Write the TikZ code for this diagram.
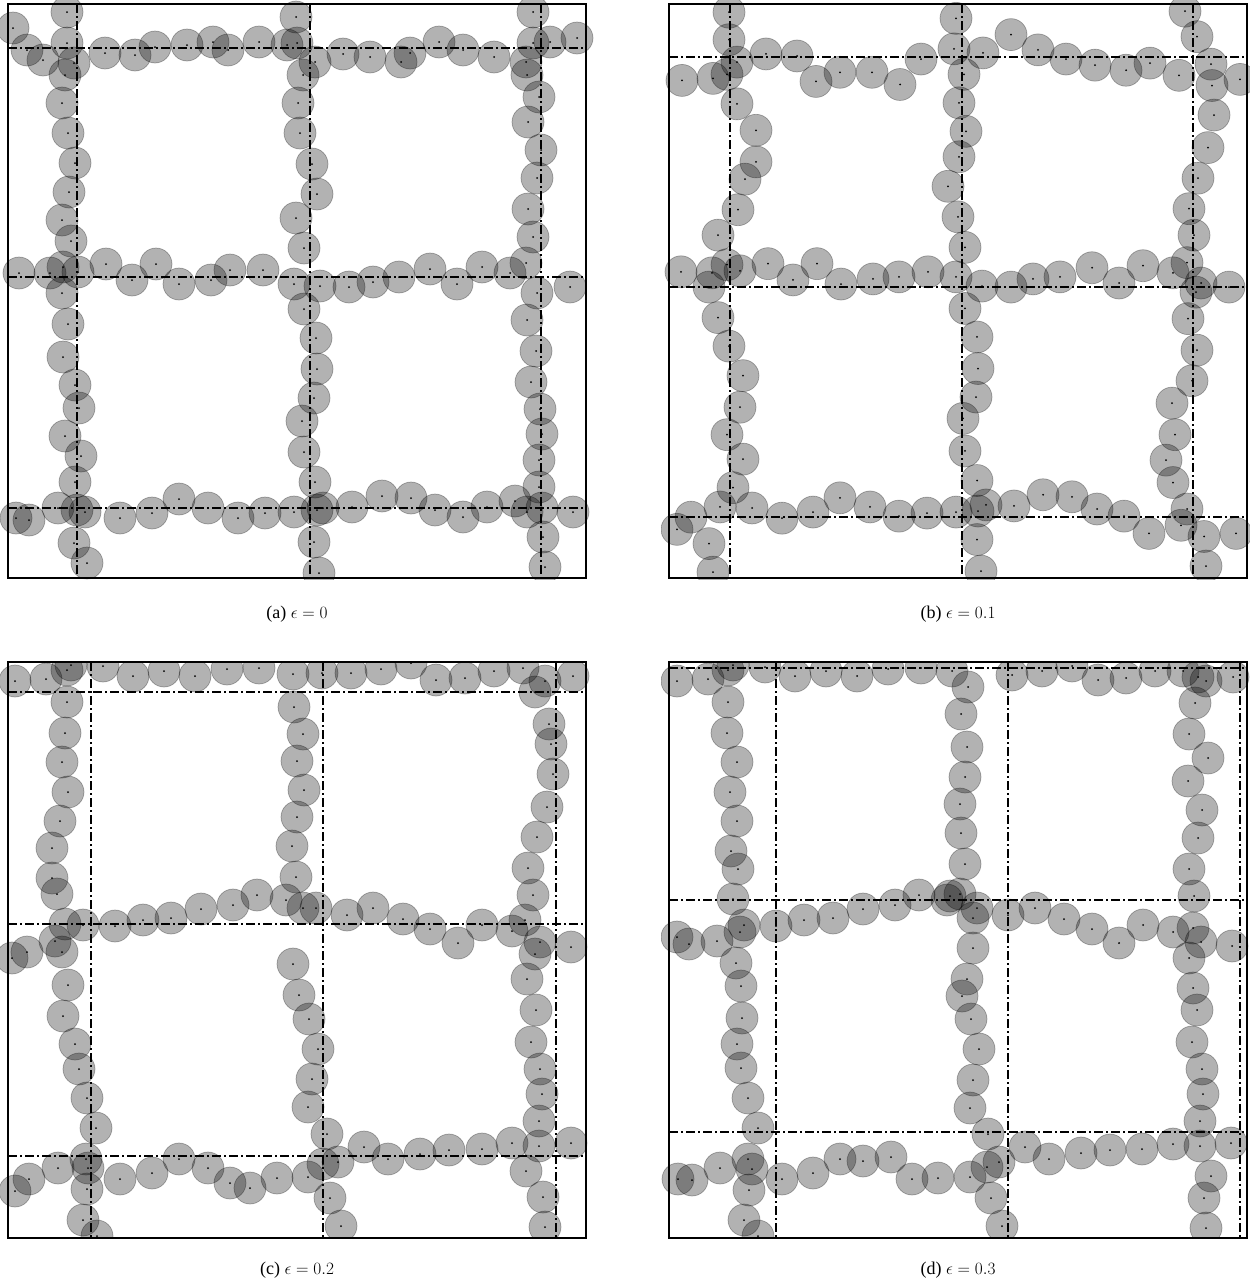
\documentclass[tikz,border=0pt]{standalone}
\usepackage{fontspec}
\setmainfont{Liberation Serif}
\begin{document}
\begin{tikzpicture}[x=1pt,y=-1pt,
  disk/.style={fill=black,fill opacity=0.3,draw=black,draw opacity=0.3,line width=0.7pt},
  ctrdot/.style={fill=black},
  panelframe/.style={draw=black,line width=1.6pt},
  gridl/.style={draw=black,line width=1.5pt,dash pattern=on 9pt off 3pt on 2pt off 3pt},
  captext/.style={font=\fontsize{18}{21}\selectfont,inner sep=0pt}]
\useasboundingbox (0,0) rectangle (1250,1288);
\newcommand\drawdisks[2][1]{\foreach \x/\y in {#2}{\path[disk] (\x,{#1*\y}) circle[radius=16pt]; \fill[ctrdot] (\x,{#1*\y}) circle[radius=1pt];}}
% ---------------- (a)
\begin{scope}
\clip (0,0) rectangle (594,579);
\drawdisks{67/12,67/43,13/28,27/50,43/60,74/63,65/75,105/53,135/55,155/47,187/45,213/42,228/50,259/42,287/45,297/43,296/17,62/103,68/133,75/163,69/192,62/220,71/241,19/273,50/273,63/267,78/272,62/293,106/264,132/280,156/264,179/284,211/280,230/270,263/270,294/284,315/62,303/75,343/54,370/57,401/62,410/53,439/42,463/50,494/57,533/12,533/43,526/62,527/75,539/97,528/122,541/150,537/178,528/209,533/237,550/42,577/38,298/103,300/133,312/164,317/194,296/218,304/248,526/263,482/267,430/269,457/284,399/277,373/282,349/287,320/286,537/293,570/287,510/273,68/324,63/357,75/385,79/408,65/436,81/456,75/482,58/508,85/512,77/510,16/518,29/520,120/518,152/513,179/499,208/508,238/518,265/513,294/512,74/543,87/563,304/309,316/338,317/369,314/398,302/421,304/452,315/482,317/510,323/508,352/507,382/496,411/498,435/510,463/517,487/507,515/501,527/512,542/508,573/512,314/542,319/573,527/320,536/351,531/382,540/409,542/434,539/460,539/487,543/537,545/567}
\end{scope}
\foreach \v in {77,310,541}{\draw[gridl] (\v,4) -- (\v,578);}
\foreach \h in {48,277,508}{\draw[gridl] (8,\h) -- (586,\h);}
\draw[panelframe] (8,4) rectangle (586,578);
\node[captext] (capa) at (297,614) {(a) $\epsilon = 0$};
% ---------------- (b)
\begin{scope}
\clip (661,0) rectangle (1250,579);
\drawdisks[1.018]{729/12,729/39,737/61,727/73,766/53,797/55,682/79,713/77,816/80,840/71,872/71,900/83,921/58,956/18,954/48,737/102,756/128,756/159,745/176,738/206,718/231,681/267,712/268,727/260,740/266,709/282,768/259,793/275,817/259,841/279,873/274,899/272,928/267,956/272,718/312,729/340,743/369,740/400,727/427,743/451,733/479,720/498,752/499,677/520,691/508,709/534,713/562,782/509,813/503,840/489,870/498,899/507,927/504,956/503,964/73,959/101,966/129,959/154,948/183,958/213,965/243,965/303,977/331,978/362,976/390,963/411,965/443,977/472,986/496,978/502,977/530,981/561,983/52,1011/34,1038/49,1066/58,1095/64,1126/69,1150/62,1179/74,1185/11,1197/36,1211/63,1212/84,1240/78,1214/113,1208/145,1198/175,1189/205,1194/231,1187/258,1173/268,1201/278,1196/287,1229/282,1188/313,1197/344,1192/374,1172/396,1175/427,1166/452,1173/474,1187/500,1181/516,1204/527,1236/524,1206/556,982/281,1011/282,1033/274,1060/272,1092/263,1119/278,1143/261,1014/497,1043/486,1072/488,1097/500,1124/507,1149/524}
\end{scope}
\foreach \v in {730,962,1193}{\draw[gridl] (\v,4) -- (\v,578);}
\foreach \h in {57,287,517}{\draw[gridl] (669,\h) -- (1247,\h);}
\draw[panelframe] (669,4) rectangle (1247,578);
\node[captext] (capb) at (958,614) {(b) $\epsilon = 0.1$};
% ---------------- (c)
\begin{scope}
\clip (0,662) rectangle (594,1238);
\drawdisks{15/681,46/679,67/670,71/665,103/666,133/676,164/671,195/676,227/669,259/668,293/674,67/702,65/733,62/762,68/792,60/821,52/848,52/878,57/894,65/924,83/925,115/926,143/920,171/918,201/909,233/905,257/895,286/900,12/958,27/952,55/941,62/952,68/985,63/1016,75/1044,79/1069,87/1098,96/1128,86/1159,88/1168,29/1179,15/1191,58/1168,87/1189,83/1220,97/1236,120/1179,152/1173,179/1159,208/1168,230/1183,250/1188,277/1178,322/673,351/673,381/669,411/663,436/680,465/678,494/671,523/668,545/681,573/676,535/692,294/707,303/734,297/761,304/790,297/817,292/846,296/877,303/908,316/908,347/915,373/908,403/919,430/929,458/943,482/925,512/931,525/920,540/942,535/954,571/947,549/724,551/744,553/774,547/807,537/837,528/868,533/895,527/979,536/1010,531/1042,540/1069,542/1094,539/1121,539/1146,512/1143,571/1143,526/1171,543/1197,545/1227,482/1149,449/1150,420/1154,388/1159,364/1147,338/1162,323/1164,308/1177,327/1134,330/1198,341/1226,293/964,299/995,309/1019,318/1049,312/1079,308/1107}
\end{scope}
\foreach \v in {91,323,556}{\draw[gridl] (\v,662) -- (\v,1238);}
\foreach \h in {692,924,1156}{\draw[gridl] (8,\h) -- (586,\h);}
\draw[panelframe] (8,662) rectangle (586,1238);
\node[captext] (capc) at (297,1270) {(c) $\epsilon = 0.2$};
% ---------------- (d)
\begin{scope}
\clip (661,662) rectangle (1250,1238);
\drawdisks{677/681,708/679,728/670,733/665,765/667,795/676,826/671,857/676,888/669,921/668,952/671,728/702,727/733,737/762,730/792,737/821,731/851,738/869,733/899,744/925,740/932,677/937,689/944,717/941,736/963,741/986,742/1018,737/1044,741/1068,748/1098,758/1128,748/1159,752/1169,678/1179,692/1180,720/1168,749/1190,744/1220,758/1236,776/926,804/920,833/918,863/909,895/905,919/895,947/900,782/1179,813/1173,840/1159,863/1161,891/1157,912/1179,938/1178,968/687,1012/675,1042/671,1072/666,1098/680,1126/678,1155/671,1183/671,1198/677,1206/681,1233/677,961/714,967/747,965/777,960/804,961/833,965/864,960/894,973/918,977/908,950/896,973/948,967/979,962/996,971/1019,979/1049,973/1080,970/1108,988/1134,987/1167,999/1162,970/1177,991/1198,1002/1226,1008/915,1035/908,1064/919,1092/929,1119/943,1143/925,1173/932,1193/928,1201/942,1189/958,1232/946,1195/703,1189/734,1208/758,1188/781,1202/810,1198/838,1189/869,1194/896,1193/988,1197/1010,1192/1042,1202/1069,1203/1094,1200/1121,1200/1146,1173/1144,1231/1143,1211/1176,1204/1198,1206/1228,1025/1147,1049/1159,1081/1153,1110/1150,1142/1149}
\end{scope}
\foreach \v in {776,1008,1240}{\draw[gridl] (\v,662) -- (\v,1238);}
\foreach \h in {668,900,1132}{\draw[gridl] (669,\h) -- (1247,\h);}
\draw[panelframe] (669,662) rectangle (1247,1238);
\node[captext] (capd) at (958,1270) {(d) $\epsilon = 0.3$};
\end{tikzpicture}
\end{document}
